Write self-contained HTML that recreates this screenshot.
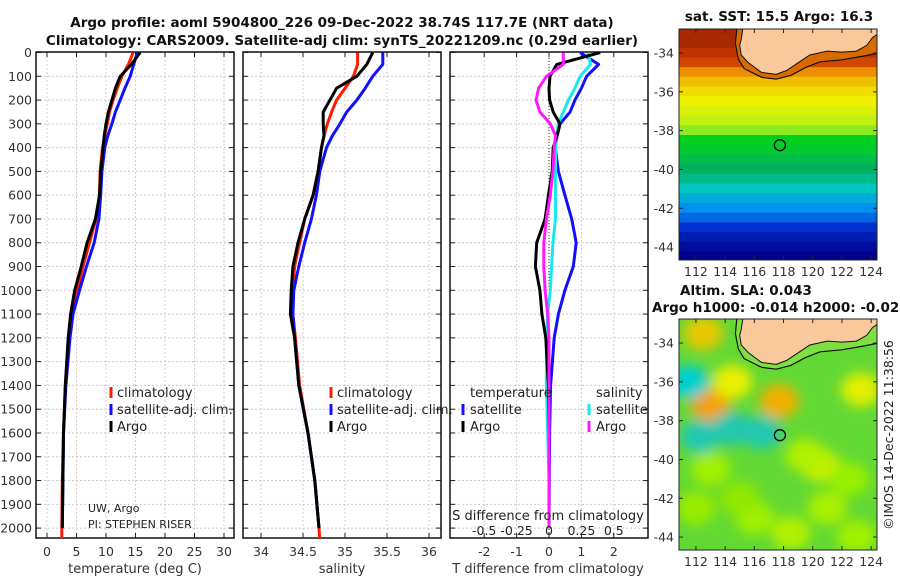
<!DOCTYPE html>
<html><head><meta charset="utf-8"><style>
html,body{margin:0;padding:0;background:#fff;}
svg{display:block;font-family:"DejaVu Sans","Liberation Sans",sans-serif;}
</style></head><body>
<svg id="fig" width="900" height="580" viewBox="0 0 900 580" xmlns="http://www.w3.org/2000/svg">
<defs>
<filter id="blur" x="-50%" y="-50%" width="200%" height="200%"><feGaussianBlur stdDeviation="6"/></filter>
<clipPath id="clipSST"><rect x="679" y="29" width="198" height="231"/></clipPath>
<clipPath id="clipSLA"><rect x="679" y="319" width="198" height="231"/></clipPath>
<clipPath id="clipP1"><rect x="36" y="52" width="198" height="486"/></clipPath>
<clipPath id="clipP2"><rect x="243" y="52" width="198" height="486"/></clipPath>
<clipPath id="clipP3"><rect x="450" y="52" width="197" height="486"/></clipPath>
</defs>
<g font-weight="bold" font-size="13.5" fill="#111" text-anchor="middle">
<text x="342" y="27">Argo profile: aoml 5904800_226 09-Dec-2022 38.74S 117.7E (NRT data)</text>
<text x="342" y="45">Climatology: CARS2009. Satellite-adj clim: synTS_20221209.nc (0.29d earlier)</text>
<text x="779" y="21">sat. SST: 15.5 Argo: 16.3</text>
<text x="746" y="295">Altim. SLA: 0.043</text>
<text x="652" y="312" text-anchor="start">Argo h1000: -0.014 h2000: -0.025</text>
</g>
<g id="layer"></g>
</svg>
<script>
// ---------- data ----------
const depths    = [0,50,100,150,200,250,300,350,400,500,600,700,800,900,1000,1100,1200,1400,1600,1800,2000,2050];
const tempArgo  = [15.8,14.3,12.4,11.6,11.0,10.4,10.0,9.7,9.5,9.1,8.9,8.2,6.8,5.8,4.7,4.0,3.6,3.1,2.8,2.7,2.6,null];
const tempClim  = [14.6,13.8,12.7,11.9,11.2,10.6,10.2,9.8,9.4,9.0,8.9,8.3,7.2,6.1,5.1,4.1,3.7,3.1,2.8,2.6,2.5,2.5];
const tempSat   = [15.3,14.7,14.1,13.2,12.4,11.6,11.0,10.3,9.8,9.3,9.1,8.8,8.0,6.7,5.5,4.4,3.9,3.2,2.8,2.7,2.6,null];
const salArgo   = [35.33,35.26,35.14,34.90,34.82,34.74,34.74,34.75,34.72,34.68,34.62,34.52,34.44,34.38,34.36,34.35,34.40,34.45,34.56,34.64,34.69,null];
const salClim   = [35.15,35.15,35.10,35.00,34.90,34.84,34.79,34.75,34.72,34.68,34.62,34.52,34.46,34.40,34.38,34.38,34.41,34.46,34.56,34.64,34.69,34.70];
const salSat    = [35.45,35.45,35.33,35.24,35.14,35.02,34.94,34.85,34.78,34.70,34.66,34.60,34.52,34.45,34.39,34.38,34.40,34.45,34.56,34.64,34.69,null];
const dTempArgo = [1.58,0.24,0.03,0.0,0.02,0.13,0.34,0.25,0.13,0.10,-0.02,-0.12,-0.38,-0.42,-0.28,-0.22,-0.10,-0.02,0.0,0.0,0.0,null];
const dTempSat  = [0.96,1.53,1.16,1.0,0.80,0.65,0.34,0.25,0.19,0.29,0.49,0.70,0.84,0.75,0.49,0.29,0.16,0.05,0.02,0.01,0.0,null];
const dSalArgo  = [0.11,0.11,-0.02,-0.08,-0.10,-0.07,0.01,0.05,0.04,0.03,0.01,-0.02,-0.04,-0.04,-0.03,-0.01,0.0,0.0,0.0,0.0,0.0,null];
const dSalSat   = [0.30,0.32,0.24,0.20,0.15,0.11,0.07,0.06,0.05,0.05,0.05,0.05,0.03,0.02,0.01,-0.01,-0.02,-0.02,-0.01,0.0,0.0,null];
const depthTicks = [0,100,200,300,400,500,600,700,800,900,1000,1100,1200,1300,1400,1500,1600,1700,1800,1900,2000];
const tempTicks = [0,5,10,15,20,25,30];
const salTicks  = [34,34.5,35,35.5,36];
const dTTicks   = [-2,-1,0,1,2];
const dSTicks   = [-0.5,-0.25,0,0.25,0.5];
const dSTickLabels = ["-0.5","-0.25","0","0.25","0.5"];
// SST by latitude row (deg C)
const sstLats = [-33,-33.5,-34,-34.5,-35,-35.5,-36,-36.5,-37,-37.5,-38,-38.5,-39,-39.5,-40,-40.5,-41,-41.5,-42,-42.5,-43,-43.5,-44,-44.5];
const sstVals = [20,20,19.5,19,18,17.5,17.2,17,16.8,16.6,16.2,15.5,15.4,15.2,15.0,14.7,14.3,14.0,13.7,13.4,13.0,12.6,12.3,12.0];
// SLA blobs: lon, lat, colour
const slaLon = [113,112.5,111.5,112.3,114.5,116.5,117.7,123.3,120.5,114.5,121,119.5,113,122.5,116,118.5,112,115,123];
const slaLat = [-37.2,-33.5,-36,-38.8,-38.4,-38.6,-37,-36.4,-40.3,-36,-42.5,-39.8,-40.5,-41,-43,-43.8,-42.5,-42,-44];
const slaCol = ["#f5a000","#e8c800","#00d0d0","#20c8b0","#20c8b0","#20c8b0","#f0b000","#e0f000","#c8f000","#e8f000","#a8f000","#b0f000","#a0f000","#98f000","#a0f000","#b0f000","#98ec00","#90e800","#a0f000"];
const argoLon = 117.75, argoLat = -38.75;

// ---------- helpers ----------
const NS = "http://www.w3.org/2000/svg";
const layer = document.getElementById('layer');
function mk(tag, attrs, parent) {
  const e = document.createElementNS(NS, tag);
  for (const k in attrs) e.setAttribute(k, attrs[k]);
  (parent || layer).appendChild(e);
  return e;
}
const yD = d => 52.5 + d * 0.2378;
const xT = t => 47 + t * 5.9;
const xS = s => 261 + (s - 34) * 84;
const xDT = t => 549 + t * 32.4;
const xDS = s => 549 + s * 129.6;
const mx = lon => 679 + (lon - 110.84) * 14.6;
const myA = lat => 29 + (-32.76 - lat) * 19.4;
const myB = lat => 319 + (-32.76 - lat) * 19.4;

function panel(x0, name, xTicksArr, xf, labels) {
  const g = mk('g', {});
  
  
  depthTicks.forEach(d => {
    const l = mk('line', {x1:x0, x2:x0+198, y1:yD(d), y2:yD(d), stroke:'#c9c6dc', 'stroke-width':1, 'stroke-dasharray':'2,2'}, g);
    
    
    mk('line', {x1:x0, x2:x0+5, y1:yD(d), y2:yD(d), stroke:'#222', 'stroke-width':1}, g);
    mk('line', {x1:x0+193, x2:x0+198, y1:yD(d), y2:yD(d), stroke:'#222', 'stroke-width':1}, g);
  });
  xTicksArr.forEach((v, i) => {
    const x = xf(v);
    const l = mk('line', {x1:x, x2:x, y1:52, y2:538, stroke:'#e0c8c0', 'stroke-width':1, 'stroke-dasharray':'2,2'}, g);
    
    
    mk('line', {x1:x, x2:x, y1:533, y2:538, stroke:'#222'}, g);
    mk('line', {x1:x, x2:x, y1:52, y2:57, stroke:'#222'}, g);
    const t = mk('text', {x:x, y:556, 'font-size':12.5, fill:'#333', 'text-anchor':'middle'}, g);
    t.textContent = labels[i];
    
    
  });
  const r = mk('rect', {x:x0, y:52, width:198, height:486, fill:'none', stroke:'#111', 'stroke-width':1.5}, g);
  
  
  return g;
}
function series(vals, xf, color, w, clip, name) {
  let d = '';
  vals.forEach((v, i) => { if (v === null) return; d += (d ? 'L' : 'M') + xf(v).toFixed(1) + ',' + yD(depths[i]).toFixed(1); });
  const p = mk('path', {d:d, fill:'none', stroke:color, 'stroke-width':w, 'stroke-linejoin':'round', 'clip-path':'url(#'+clip+')'});
  
  
}
function txt(x, y, s, size, name, anchor, extra) {
  const t = mk('text', Object.assign({x:x, y:y, 'font-size':size, fill:'#222', 'text-anchor':anchor || 'start'}, extra || {}));
  t.textContent = s;
  
  
  return t;
}
function marker(x, y, color, name) {
  const m = mk('rect', {x:x-1.5, y:y-11, width:3, height:11, fill:color});
  
  
}

// ---------- panels ----------
panel(36, 'temperature-panel', tempTicks, xT, tempTicks.map(String));
panel(243, 'salinity-panel', salTicks, xS, salTicks.map(String));
panel(450, 'difference-panel', dTTicks, xDT, dTTicks.map(String));
depthTicks.forEach(d => {
  txt(32, yD(d) + 4.5, String(d), 12.5, 'depth-tick-label', 'end', {fill:'#333'});
});
const zl = mk('line', {x1:549, x2:549, y1:52, y2:538, stroke:'#333', 'stroke-width':1, 'stroke-dasharray':'1,2'});



series(tempClim, xT, '#ff1a00', 3, 'clipP1', 'temp-climatology-line');
series(tempSat, xT, '#1010ff', 3, 'clipP1', 'temp-satellite-line');
series(tempArgo, xT, '#000', 3, 'clipP1', 'temp-argo-line');
series(salClim, xS, '#ff1a00', 3, 'clipP2', 'sal-climatology-line');
series(salSat, xS, '#1010ff', 3, 'clipP2', 'sal-satellite-line');
series(salArgo, xS, '#000', 3, 'clipP2', 'sal-argo-line');
series(dTempSat, xDT, '#1010ff', 3, 'clipP3', 'dtemp-satellite-line');
series(dSalSat, xDS, '#18e8f0', 3, 'clipP3', 'dsal-satellite-line');
series(dTempArgo, xDT, '#000', 3, 'clipP3', 'dtemp-argo-line');
series(dSalArgo, xDS, '#ff18ff', 3, 'clipP3', 'dsal-argo-line');

txt(135, 573, 'temperature (deg C)', 13, 'x-axis-title-temperature', 'middle', {fill:'#333'});
txt(342, 573, 'salinity', 13, 'x-axis-title-salinity', 'middle', {fill:'#333'});
txt(548, 573, 'T difference from climatology', 13, 'x-axis-title-tdiff', 'middle', {fill:'#333'});
txt(548, 520, 'S difference from climatology', 13, 'secondary-axis-title-sdiff', 'middle', {fill:'#222'});
dSTicks.forEach((v, i) => txt(xDS(v), 535, dSTickLabels[i], 12.5, 'sdiff-tick-label', 'middle', {fill:'#222'}));
txt(88, 512, 'UW, Argo', 11, 'institution-label');
txt(88, 528, 'PI: STEPHEN RISER', 11, 'pi-label');

[['#ff1a00','climatology'],['#1010ff','satellite-adj. clim.'],['#000','Argo']].forEach((it, i) => {
  marker(111, 398 + i*17, it[0], 'legend-marker-temp');
  txt(117, 397 + i*17, it[1], 13, 'legend-entry-temp');
  marker(331, 398 + i*17, it[0], 'legend-marker-sal');
  txt(337, 397 + i*17, it[1], 13, 'legend-entry-sal');
});
txt(470, 397, 'temperature', 13, 'legend-heading-temperature');
txt(596, 397, 'salinity', 13, 'legend-heading-salinity');
marker(463, 415, '#1010ff', 'legend-marker-tsat'); txt(470, 414, 'satellite', 13, 'legend-entry-tsat');
marker(463, 432, '#000', 'legend-marker-targo'); txt(470, 431, 'Argo', 13, 'legend-entry-targo');
marker(589, 415, '#18e8f0', 'legend-marker-ssat'); txt(596, 414, 'satellite', 13, 'legend-entry-ssat');
marker(589, 432, '#ff18ff', 'legend-marker-sargo'); txt(596, 431, 'Argo', 13, 'legend-entry-sargo');

// ---------- maps ----------
const stops = [[12,[0,0,138]],[13,[0,48,208]],[13.7,[0,144,240]],[14.3,[0,200,192]],[15,[0,176,96]],[15.5,[0,208,32]],[16.3,[160,240,32]],[17,[240,240,0]],[17.8,[240,160,0]],[18.5,[224,96,0]],[19.5,[192,48,0]],[20.5,[144,32,0]]];
function cmap(v) {
  if (v <= stops[0][0]) return 'rgb(' + stops[0][1] + ')';
  for (let i = 1; i < stops.length; i++) {
    if (v <= stops[i][0]) {
      const f = (v - stops[i-1][0]) / (stops[i][0] - stops[i-1][0]);
      const c = stops[i-1][1].map((a, k) => Math.round(a + (stops[i][1][k] - a) * f));
      return 'rgb(' + c + ')';
    }
  }
  return 'rgb(' + stops[stops.length-1][1] + ')';
}
const landLon = [115.2,115.1,115.0,115.1,115.6,116.5,117.5,118.2,119,119.8,121,122,123,123.7,124.1,124.5,124.5];
const landLat = [-32.76,-33.3,-33.6,-34.1,-34.5,-35.0,-35.1,-34.9,-34.5,-34.1,-33.9,-33.95,-33.9,-33.6,-33.2,-33.0,-32.76];
const shelfLon = [114.8,114.7,114.9,115.3,116.5,117.5,118.5,119.5,120.5,122,123.5,124.5];
const shelfLat = [-32.76,-33.5,-34.3,-34.8,-35.25,-35.35,-35.15,-34.75,-34.45,-34.35,-34.15,-34.0];
function drawMap(my, clip, name, isSST) {
  const g = mk('g', {'clip-path':'url(#'+clip+')'});
  
  
  if (isSST) {
    sstLats.forEach((la, i) => {
      const c = mk('rect', {x:679, y:my(la + 0.25) - 0.5, width:198, height:10.7, fill:cmap(sstVals[i])}, g);
      
      
    });
  } else {
    mk('rect', {x:679, y:my(-32.76), width:198, height:231, fill:'#62d834'}, g);
    const bg = mk('g', {filter:'url(#blur)'}, g);
    slaLon.forEach((lo, i) => {
      const b = mk('ellipse', {cx:mx(lo), cy:my(slaLat[i]), rx:20, ry:17, fill:slaCol[i]}, bg);
      
      
    });
  }
  let sp = 'M' + mx(shelfLon[0]) + ',' + my(shelfLat[0]);
  shelfLon.forEach((lo, i) => sp += 'L' + mx(lo).toFixed(1) + ',' + my(shelfLat[i]).toFixed(1));
  sp += 'L' + mx(124.5) + ',' + my(-32.76) + 'Z';
  mk('path', {d:sp, fill:isSST ? '#d86a00' : '#7ee040', stroke:'none'}, g);
  let lp = '';
  landLon.forEach((lo, i) => lp += (lp ? 'L' : 'M') + mx(lo).toFixed(1) + ',' + my(landLat[i]).toFixed(1));
  const land = mk('path', {d:lp + 'Z', fill:'#f9c89b', stroke:'#111', 'stroke-width':1}, g);
  
  
  let cp = '';
  shelfLon.forEach((lo, i) => cp += (cp ? 'L' : 'M') + mx(lo).toFixed(1) + ',' + my(shelfLat[i]).toFixed(1));
  mk('path', {d:cp, fill:'none', stroke:'#111', 'stroke-width':1.2}, g);
  const ac = mk('circle', {cx:mx(argoLon), cy:my(argoLat), r:5.5, fill:'none', stroke:'#000', 'stroke-width':1.3});
  
  
  mk('rect', {x:679, y:my(-32.76), width:198, height:231, fill:'none', stroke:'#222', 'stroke-width':1});
  [112,114,116,118,120,122,124].forEach(lo => {
    mk('line', {x1:mx(lo), x2:mx(lo), y1:my(-32.76), y2:my(-32.76)+4, stroke:'#222'});
    mk('line', {x1:mx(lo), x2:mx(lo), y1:my(-32.76)+231, y2:my(-32.76)+227, stroke:'#222'});
    txt(mx(lo), my(-32.76) + 247, String(lo), 12.5, 'lon-tick-label', 'middle', {fill:'#333'});
  });
  [-34,-36,-38,-40,-42,-44].forEach(la => {
    mk('line', {x1:679, x2:683, y1:my(la), y2:my(la), stroke:'#222'});
    mk('line', {x1:877, x2:873, y1:my(la), y2:my(la), stroke:'#222'});
    txt(674, my(la) + 4.5, String(la), 12.5, 'lat-tick-label', 'end', {fill:'#333'});
  });
}
drawMap(myA, 'clipSST', 'sst-map', true);
drawMap(myB, 'clipSLA', 'sla-map', false);
txt(0, 0, '©IMOS 14-Dec-2022 11:38:56', 12.5, 'copyright-timestamp', 'middle', {transform:'translate(893,435) rotate(-90)', fill:'#222'});
</script>
</body></html>
